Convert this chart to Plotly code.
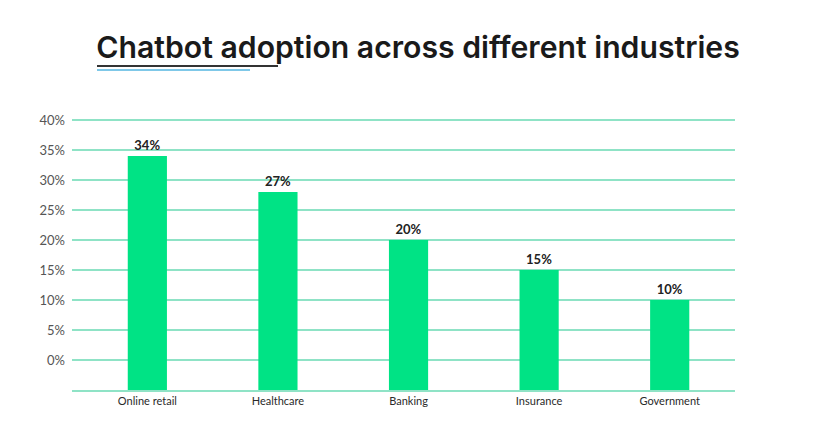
import plotly.graph_objects as go
import numpy as np

categories = ["Online retail", "Healthcare", "Banking", "Insurance", "Government"]
bar_values = [34, 28, 20, 15, 10]
bar_labels = ["34%", "27%", "20%", "15%", "10%"]
y_ticks = [0, 5, 10, 15, 20, 25, 30, 35, 40]
y_tick_labels = ["0%", "5%", "10%", "15%", "20%", "25%", "30%", "35%", "40%"]
axis_floor = -5
axis_top = 40.33

BAR = "#00e385"
GRID = "#8fe3c6"

heights = np.array(bar_values) - axis_floor

# page body has an 8px margin: shift everything up/left by 8px
OFF = 8
L = 72 - OFF
R = 735 - OFF
T = 118 - OFF
B = 390 - OFF
PW = R - L
PH = B - T

fig = go.Figure(go.Bar(
    x=categories,
    y=heights,
    base=axis_floor,
    marker=dict(color=BAR, line=dict(width=0)),
    width=0.3,
    text=bar_labels,
    textposition="outside",
    textfont=dict(family="Lato", size=13, color="#222222", weight="bold"),
    cliponaxis=False,
    hoverinfo="skip",
))

fig.update_layout(
    width=840, height=440,
    margin=dict(l=L, r=840 - R, t=T, b=440 - B),
    paper_bgcolor="white", plot_bgcolor="white",
    showlegend=False,
    title=dict(
        text="Chatbot adoption across different industries",
        x=(418 - OFF) / 840, xref="container", xanchor="center",
        y=1 - (47 - OFF) / 440, yref="container", yanchor="middle",
        font=dict(family="Inter", size=30.2, color="#1a1a1a", weight=600),
    ),
    xaxis=dict(
        range=[-0.577, 4.5],
        showgrid=False,
        showline=True, linecolor=GRID, linewidth=2,
        ticks="", tickfont=dict(family="Lato", size=11, color="#2a2a2a"),
        fixedrange=True,
    ),
    yaxis=dict(
        range=[axis_floor, axis_top],
        tickvals=y_ticks, ticktext=y_tick_labels,
        showgrid=True, gridcolor=GRID, gridwidth=1.5,
        zeroline=False, showline=False, ticks="",
        ticklabelstandoff=6,
        tickfont=dict(family="Lato", size=13, color="#555555"),
        fixedrange=True,
    ),
    shapes=[
        dict(type="line", xref="paper", yref="paper",
             x0=(97 - OFF - L) / PW, x1=(278 - OFF - L) / PW,
             y0=(B - (66 - OFF)) / PH, y1=(B - (66 - OFF)) / PH,
             line=dict(color="#333333", width=2)),
        dict(type="line", xref="paper", yref="paper",
             x0=(97 - OFF - L) / PW, x1=(250 - OFF - L) / PW,
             y0=(B - (70 - OFF)) / PH, y1=(B - (70 - OFF)) / PH,
             line=dict(color="#7fc8e8", width=2)),
    ],
)

fig.write_html("out.html")
